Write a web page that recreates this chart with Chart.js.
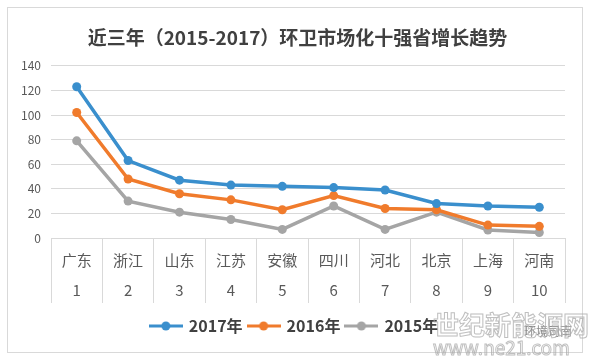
<!DOCTYPE html>
<html><head><meta charset="utf-8">
<script src="https://cdn.jsdelivr.net/npm/chart.js@4/dist/chart.umd.min.js"></script>
<style>html,body{margin:0;padding:0;background:#fff}#wrap{width:593px;height:364px;position:relative}</style>
</head><body><div id="wrap"><canvas id="c" width="593" height="364"></canvas></div>
<script>
const categories = ['广东','浙江','山东','江苏','安徽','四川','河北','北京','上海','河南'];
const ranks = ['1','2','3','4','5','6','7','8','9','10'];
const series2017 = [123, 63, 47, 43, 42, 41, 39, 28, 26, 25];
const series2016 = [102, 48, 36, 31, 23, 34.5, 24, 23, 10.5, 9.5];
const series2015 = [79, 30, 21, 15, 7, 26, 7, 21, 6.5, 4.5];
const seriesNames = ['2017年','2016年','2015年'];
const yMin = 0, yMax = 140, yStep = 20;
const titleText = '近三年（2015-2017）环卫市场化十强省增长趋势';

const colors = ['#3A8FCD','#F07B2C','#A5A5A5'];
const FONT = "'Noto Sans CJK SC', 'Noto Sans', sans-serif";

function marker(color){
  const c = document.createElement('canvas');
  c.width = 34; c.height = 10;
  const x = c.getContext('2d');
  x.strokeStyle = color; x.lineWidth = 3;
  x.beginPath(); x.moveTo(0,5); x.lineTo(34,5); x.stroke();
  x.fillStyle = color; x.beginPath(); x.arc(17,5,4.5,0,Math.PI*2); x.fill();
  return c;
}
const markers = colors.map(marker);

const labels = categories.map((c,i)=>[c, ranks[i]]);
const allSeries = [series2017, series2016, series2015];

const frame = {
  id:'frame',
  afterLayout(chart){
    // centre title and legend on the framed box as in the original
    if (chart.titleBlock) { chart.titleBlock.left = 30; chart.titleBlock.right = 565; }
    if (chart.legend) { chart.legend.left = 24; chart.legend.right = 565; }
  },
  beforeDraw(chart){
    const ctx = chart.ctx;
    ctx.save();
    ctx.fillStyle = '#fff'; ctx.fillRect(0,0,chart.width,chart.height);
    ctx.strokeStyle = '#d9d9d9'; ctx.lineWidth = 1;
    ctx.strokeRect(7.5,7.5,575,345);
    ctx.restore();
  },
  afterDraw(chart){
    const ctx = chart.ctx;
    ctx.save();
    ctx.font = "12px " + FONT;
    ctx.fillStyle = '#8a8a8a';
    ctx.textBaseline = 'middle';
    ctx.fillText('环境司南', 524, 331);
    ctx.font = "bold 26px " + FONT;
    ctx.strokeStyle = 'rgba(170,170,170,0.75)';
    ctx.lineWidth = 1;
    ctx.textBaseline = 'alphabetic';
    ctx.strokeText('世纪新能源网', 433, 335);
    ctx.font = "19px " + FONT;
    ctx.strokeText('www.ne21.com', 433, 355);
    ctx.restore();
  }
};

new Chart(document.getElementById('c'), {
  type:'line',
  data:{
    labels: labels,
    datasets: allSeries.map((d,i)=>({
      label: seriesNames[i],
      data: d,
      borderColor: colors[i],
      backgroundColor: colors[i],
      borderWidth: 3.5,
      pointRadius: 4.5,
      pointBorderWidth: 0,
      pointBackgroundColor: colors[i],
      tension: 0,
      fill: false
    }))
  },
  plugins:[frame],
  options:{
    responsive:false,
    animation:false,
    devicePixelRatio:1,
    layout:{padding:{left:0,right:28,top:0,bottom:20}},
    plugins:{
      title:{
        display:true,
        text:titleText,
        color:'#404040',
        font:{family:FONT,size:19,weight:'bold'},
        padding:{top:26,bottom:17}
      },
      legend:{
        position:'bottom',
        labels:{
          usePointStyle:true,
          pointStyleWidth:30,
          padding:6,
          color:'#404040',
          font:{family:FONT,size:16,weight:'bold'},
          generateLabels(chart){
            const items = Chart.defaults.plugins.legend.labels.generateLabels(chart);
            items.forEach((it,i)=>{ it.pointStyle = markers[i]; });
            return items;
          }
        }
      },
      tooltip:{enabled:false}
    },
    scales:{
      x:{
        offset:true,
        grid:{offset:true,drawOnChartArea:false,drawTicks:true,tickLength:65,color:'#d9d9d9'},
        border:{display:true,color:'#d9d9d9'},
        ticks:{
          autoSkip:false,maxRotation:0,padding:-58,
          color:'#595959',
          font:{family:FONT,size:15,lineHeight:2}
        },
        afterFit(s){ s.height = 74; }
      },
      y:{
        min:yMin,max:yMax,
        grid:{color:'#d9d9d9',drawTicks:false},
        border:{display:false},
        ticks:{stepSize:yStep,padding:10,color:'#595959',font:{family:FONT,size:12}},
        afterFit(s){ s.width = 51; }
      }
    }
  }
});
</script></body></html>
